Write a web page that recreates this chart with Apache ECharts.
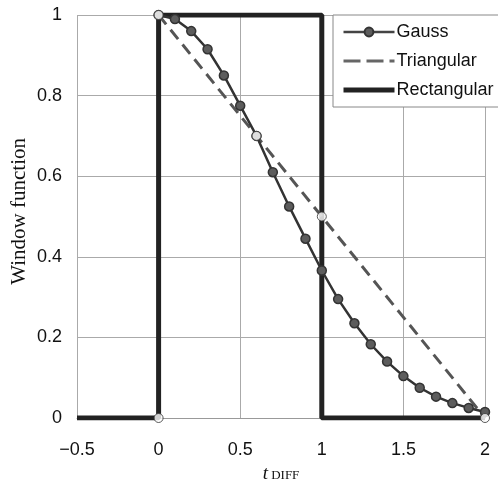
<!DOCTYPE html>
<html>
<head>
<meta charset="utf-8">
<script src="https://cdn.jsdelivr.net/npm/echarts@6/dist/echarts.min.js"></script>
<style>
  html, body { margin: 0; padding: 0; background: #fff; }
  #chart { width: 498px; height: 488px; }
</style>
</head>
<body>
<div id="chart"></div>
<script>
// values
var gaussX = [0, 0.1, 0.2, 0.3, 0.4, 0.5, 0.6, 0.7, 0.8, 0.9, 1.0, 1.1, 1.2, 1.3, 1.4, 1.5, 1.6, 1.7, 1.8, 1.9, 2.0];
var gaussY = [1, 0.99, 0.96, 0.915, 0.85, 0.775, 0.70, 0.61, 0.525, 0.445, 0.366, 0.295, 0.235, 0.183, 0.14, 0.104, 0.075, 0.053, 0.037, 0.025, 0.015];
var triX = [0, 2];
var triY = [1, 0];
var rectX = [-0.5, 0, 0, 1, 1, 2];
var rectY = [0, 0, 1, 1, 0, 0];
var openX = [0, 0, 0.6, 1, 2];
var openY = [0, 1, 0.7, 0.5, 0];

function pairs(xs, ys) {
  return xs.map(function (x, i) { return [x, ys[i]]; });
}

var chart = echarts.init(document.getElementById('chart'));
chart.setOption({
  backgroundColor: '#fff',
  animation: false,
  grid: { left: 77, right: 13, top: 15, bottom: 63 },
  legend: {
    orient: 'vertical',
    left: 333,
    top: 15,
    padding: [8, 12, 8, 8],
    itemGap: 11,
    itemWidth: 51,
    itemHeight: 11,
    backgroundColor: '#fff',
    borderColor: '#888',
    borderWidth: 1,
    textStyle: { fontFamily: 'Liberation Sans', fontSize: 18, color: '#111', padding: [0, 0, 0, -3] },
    data: [
      { name: 'Gauss', lineStyle: { width: 2.5, color: '#444' } },
      { name: 'Triangular', itemStyle: { opacity: 0 }, lineStyle: { width: 3, color: '#666', type: [17, 6] } },
      { name: 'Rectangular', itemStyle: { opacity: 0 }, lineStyle: { width: 5, color: '#222' } }
    ]
  },
  xAxis: {
    type: 'value',
    min: -0.5, max: 2, interval: 0.5,
    axisLine: { show: true, onZero: false, lineStyle: { color: '#999' } },
    axisTick: { show: false },
    splitLine: { lineStyle: { color: '#aaa', width: 1 } },
    axisLabel: {
      margin: 23,
      fontFamily: 'Liberation Sans', fontSize: 18, color: '#111',
      formatter: function (v) { return String(v).replace('-', '\u2212'); }
    },
    name: '{i|t}{s| DIFF}',
    nameLocation: 'middle',
    nameGap: 46,
    nameTextStyle: {
      rich: {
        i: { fontFamily: 'Liberation Serif', fontStyle: 'italic', fontSize: 19, color: '#111' },
        s: { fontFamily: 'Liberation Serif', fontSize: 13, color: '#111', padding: [4, 0, 0, 0] }
      }
    }
  },
  yAxis: {
    type: 'value',
    min: 0, max: 1, interval: 0.2,
    axisLine: { show: true, lineStyle: { color: '#999' } },
    axisTick: { show: false },
    splitLine: { lineStyle: { color: '#aaa', width: 1 } },
    axisLabel: {
      margin: 15,
      fontFamily: 'Liberation Sans', fontSize: 18, color: '#111'
    }
  },
  graphic: [{
    type: 'text',
    left: 9,
    top: 138,
    rotation: Math.PI / 2,
    style: {
      text: 'Window function',
      font: '21px "Liberation Serif"',
      fill: '#111'
    }
  }],
  series: [
    {
      name: 'Rectangular',
      type: 'line',
      data: pairs(rectX, rectY),
      symbol: 'none',
      lineStyle: { color: '#222', width: 5 },
      itemStyle: { color: '#222' },
      z: 2
    },
    {
      name: 'Triangular',
      type: 'line',
      data: pairs(triX, triY),
      symbol: 'none',
      lineStyle: { color: '#555', width: 3, type: [12, 7] },
      itemStyle: { color: '#555' },
      z: 3
    },
    {
      name: 'Gauss',
      type: 'line',
      data: pairs(gaussX, gaussY),
      symbol: 'circle',
      symbolSize: 9,
      lineStyle: { color: '#333', width: 2.5 },
      itemStyle: { color: '#5c5c5c', borderColor: '#333', borderWidth: 1.5 },
      z: 4
    },
    {
      name: 'open',
      type: 'scatter',
      data: pairs(openX, openY),
      symbol: 'circle',
      symbolSize: 9,
      itemStyle: { color: '#fff', borderColor: '#333', borderWidth: 1 },
      z: 5
    }
  ]
});
</script>
</body>
</html>
